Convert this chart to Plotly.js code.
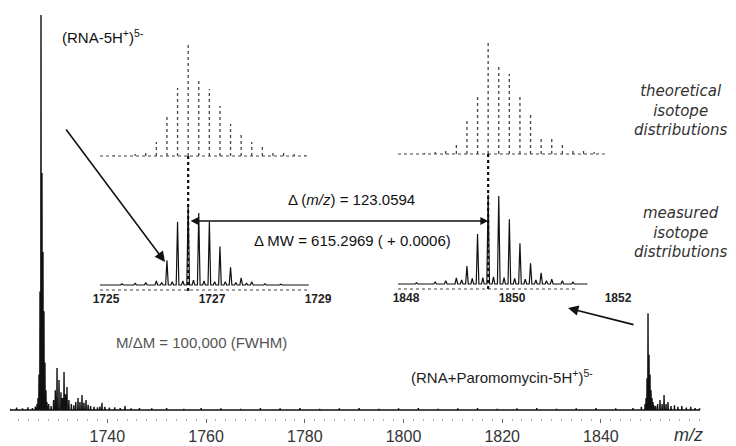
<!DOCTYPE html>
<html><head><meta charset="utf-8">
<script src="https://cdn.plot.ly/plotly-3.0.1.min.js"></script>
<style>html,body{margin:0;padding:0;background:#fff}#chart{width:736px;height:446px}</style>
</head><body><div id="chart"></div>
<script>
// ---- main spectrum (relative intensity, %) ----
const mainMz = [1720.3,1721.6,1722.8,1723.9,1724.8,1725.4,1725.75,1725.95,1726.15,1726.35,1726.55,1726.75,1726.95,1727.15,1727.35,1727.55,1727.75,1728.1,1728.6,1729.1,1729.45,1729.8,1730.2,1730.6,1730.9,1731.22,1731.5,1731.82,1732.2,1732.7,1733.2,1733.6,1734.05,1734.45,1734.86,1735.25,1735.67,1736.1,1736.6,1737.3,1738.0,1738.5,1738.91,1739.5,1740.4,1741.5,1742.6,1743.57,1744.8,1746.5,1749,1752,1755.5,1759,1763,1767,1771,1775,1779,1783,1787,1791,1795,1799,1803,1807,1811,1815,1819,1823,1827,1831,1835,1839,1843,1846.5,1848.2,1848.95,1849.15,1849.35,1849.55,1849.75,1849.95,1850.15,1850.35,1850.55,1850.75,1851.1,1851.5,1851.98,1852.4,1852.8,1853.2,1853.6,1854.2,1854.9,1855.6,1856.4,1857.3,1858.2,1859.1,1860.0];
const mainInt = [0.3,0.6,0.4,0.7,0.5,0.9,1.5,3,9,30,100,60,40,25,12,5,2,1.5,1.0,2.5,5,10.6,7.6,4.5,3,9.6,4,5.8,2.5,1.5,1.2,2,3,2,3.8,1.8,2.5,1.3,1.0,0.8,0.7,0.9,1.8,0.8,0.6,0.7,0.5,1.0,0.4,0.5,0.4,0.5,0.3,0.5,0.4,0.3,0.5,0.4,0.5,0.3,0.4,0.5,0.3,0.4,0.5,0.3,0.4,0.5,0.3,0.4,0.5,0.3,0.4,0.5,0.4,0.5,0.8,1.5,3,8,24.5,14,9,5,3,2,1.2,1,1.5,2.5,1.5,3.8,1.5,2,1,1.2,0.8,1.0,0.6,0.8,0.5,0.4];
const mainTicks = [1740,1760,1780,1800,1820,1840];

// ---- left inset: (RNA-5H+)5- ----
const lmMz = [1724.9,1725.3,1725.55,1725.75,1725.95,1726.05,1726.15,1726.25,1726.35,1726.45,1726.55,1726.65,1726.75,1726.85,1726.95,1727.05,1727.15,1727.25,1727.35,1727.45,1727.55,1727.65,1727.75,1728.0,1728.3,1728.8];
const lmInt = [0,1.5,2,3,5,3,31,4,79,5,100,6,90,5,79,4,48,4,22,3,9,2,4,1.5,1,0];
const ltMz = [1725.15,1725.55,1725.75,1725.95,1726.15,1726.35,1726.55,1726.75,1726.95,1727.15,1727.35,1727.55,1727.75,1727.95,1728.15,1728.35,1728.55,1728.75];
const ltInt = [1,2,4,14,39,68,113,77,67,50,32,21,14,9,5,3,2,1];
const leftTicks = [1725,1727,1729];

// ---- right inset: (RNA+Paromomycin-5H+)5- ----
const rmMz = [1847.86,1848.2,1848.55,1848.75,1848.95,1849.05,1849.15,1849.25,1849.35,1849.45,1849.55,1849.65,1849.75,1849.85,1849.95,1850.05,1850.15,1850.25,1850.35,1850.45,1850.55,1850.65,1850.75,1850.95,1851.15,1851.4];
const rmInt = [0,1.5,2.5,4,7.5,5,22.5,7,62.5,8,112,9,110,8,81,7,51,6,26,5,14,4,6,4,2.5,0];
const rtMz = [1848.35,1848.55,1848.75,1848.95,1849.15,1849.35,1849.55,1849.75,1849.95,1850.15,1850.35,1850.55,1850.75,1850.95,1851.15,1851.35,1851.55];
const rtInt = [1,2,3,12,34,59,114,90,80,57,39,17,16,12,5,3,2];
const rightTicks = [1848,1850,1852];

const leftApex = 1726.55, rightApex = 1849.55;

const W = 736, H = 446;
const px = x => x / W, py = y => 1 - y / H;

function profile(mz, inten, hw) {
  const xs = [], ys = [];
  for (let i = 0; i < mz.length; i++) { xs.push(mz[i] - hw, mz[i], mz[i] + hw); ys.push(0, inten[i], 0); }
  return {xs, ys};
}
function sticks(mz, inten) {
  const xs = [], ys = [];
  for (let i = 0; i < mz.length; i++) { xs.push(mz[i], mz[i], null); ys.push(0, inten[i], null); }
  return {xs, ys};
}
const FONT = 'Liberation Sans, Arial, sans-serif';
const m = profile(mainMz, mainInt, 0.05);
const lm = profile(lmMz, lmInt, 0.025);
const rm = profile(rmMz, rmInt, 0.025);
const lt = sticks(ltMz, ltInt);
const rt = sticks(rtMz, rtInt);

const traces = [
  {x: m.xs, y: m.ys, xaxis: 'x', yaxis: 'y', mode: 'lines', line: {color: '#111', width: 1.4}, hoverinfo: 'skip'},
  {x: lm.xs, y: lm.ys, xaxis: 'x2', yaxis: 'y2', mode: 'lines', line: {color: '#111', width: 1.2}, hoverinfo: 'skip'},
  {x: lt.xs, y: lt.ys, xaxis: 'x2', yaxis: 'y3', mode: 'lines', line: {color: '#444', width: 1.3, dash: 'dot'}, hoverinfo: 'skip'},
  {x: rm.xs, y: rm.ys, xaxis: 'x4', yaxis: 'y4', mode: 'lines', line: {color: '#111', width: 1.2}, hoverinfo: 'skip'},
  {x: rt.xs, y: rt.ys, xaxis: 'x4', yaxis: 'y5', mode: 'lines', line: {color: '#444', width: 1.3, dash: 'dot'}, hoverinfo: 'skip'}
];

const hidden = {visible: false, showgrid: false, zeroline: false, fixedrange: true};
const insetX = (dom, range, ticks, anchor) => ({
  domain: dom, range: range, anchor: anchor, tickvals: ticks, ticktext: ticks.map(String),
  ticks: '', showline: false, showgrid: false, zeroline: false,
  tickfont: {family: FONT, size: 12, color: '#222', weight: 'bold'}
});

const layout = {
  width: W, height: H, margin: {l: 0, r: 0, t: 0, b: 0},
  paper_bgcolor: '#fff', plot_bgcolor: 'rgba(0,0,0,0)', showlegend: false,
  xaxis: {
    domain: [px(10), px(703)], range: [1720.27, 1860.69], anchor: 'y',
    tickvals: mainTicks, ticktext: mainTicks.map(String),
    ticks: 'outside', ticklen: 4, tickcolor: '#666', tickwidth: 1,
    minor: {dtick: 2, tick0: 1720, ticks: 'outside', ticklen: 2, tickcolor: '#aaa'},
    showline: false, showgrid: false, zeroline: false,
    tickfont: {family: FONT, size: 16, color: '#333'}
  },
  yaxis: Object.assign({domain: [py(418), py(15)], range: [-2.03, 100], anchor: 'x'}, hidden),
  xaxis2: insetX([px(100), px(330)], [1724.887, 1729.226], leftTicks, 'y2'),
  yaxis2: Object.assign({domain: [py(290), py(180)], range: [-6.25, 131.25], anchor: 'x2'}, hidden),
  yaxis3: Object.assign({domain: [py(157), py(38)], range: [-1, 118], anchor: 'x2'}, hidden),
  xaxis4: insetX([px(398), px(625)], [1847.849, 1852.132], rightTicks, 'y4'),
  yaxis4: Object.assign({domain: [py(289), py(179)], range: [-6.25, 131.25], anchor: 'x4'}, hidden),
  yaxis5: Object.assign({domain: [py(155), py(36)], range: [-1, 118], anchor: 'x4'}, hidden),
  shapes: [
    {type: 'line', xref: 'x2', yref: 'paper', x0: 1724.887, x1: 1728.81, y0: py(290), y1: py(290), line: {color: '#444', width: 1, dash: 'dot'}},
    {type: 'line', xref: 'x2', yref: 'paper', x0: 1724.887, x1: 1728.79, y0: py(156), y1: py(156), line: {color: '#444', width: 1, dash: 'dot'}},
    {type: 'line', xref: 'x4', yref: 'paper', x0: 1847.849, x1: 1851.23, y0: py(289), y1: py(289), line: {color: '#444', width: 1, dash: 'dot'}},
    {type: 'line', xref: 'x4', yref: 'paper', x0: 1847.849, x1: 1851.75, y0: py(154), y1: py(154), line: {color: '#444', width: 1, dash: 'dot'}},
    {type: 'line', xref: 'x2', yref: 'paper', x0: leftApex, x1: leftApex, y0: py(156), y1: py(291), line: {color: '#111', width: 2.2, dash: 'dot'}},
    {type: 'line', xref: 'x4', yref: 'paper', x0: rightApex, x1: rightApex, y0: py(154), y1: py(290), line: {color: '#111', width: 2.2, dash: 'dot'}}
  ],
  annotations: [
    {text: '(RNA-5H<sup>+</sup>)<sup>5-</sup>', xref: 'paper', yref: 'paper', x: px(60), y: py(36), xanchor: 'left', yanchor: 'middle', showarrow: false, font: {family: FONT, size: 15, color: '#111'}},
    {text: '<i>theoretical</i><br><i>isotope</i><br><i>distributions</i>', xref: 'paper', yref: 'paper', x: px(680), y: py(111), xanchor: 'center', yanchor: 'middle', showarrow: false, font: {family: 'DejaVu Sans, sans-serif', size: 15, color: '#333'}},
    {text: '<i>measured</i><br><i>isotope</i><br><i>distributions</i>', xref: 'paper', yref: 'paper', x: px(680), y: py(233), xanchor: 'center', yanchor: 'middle', showarrow: false, font: {family: 'DejaVu Sans, sans-serif', size: 15, color: '#333'}},
    {text: 'Δ (<i>m/z</i>) = 123.0594', xref: 'paper', yref: 'paper', x: px(351), y: py(200), xanchor: 'center', yanchor: 'middle', showarrow: false, font: {family: FONT, size: 15, color: '#111'}},
    {text: 'Δ MW = 615.2969 ( + 0.0006)', xref: 'paper', yref: 'paper', x: px(352), y: py(240), xanchor: 'center', yanchor: 'middle', showarrow: false, font: {family: FONT, size: 15, color: '#111'}},
    {text: 'M/ΔM = 100,000 (FWHM)', xref: 'paper', yref: 'paper', x: px(201), y: py(342), xanchor: 'center', yanchor: 'middle', showarrow: false, font: {family: FONT, size: 15, color: '#555'}},
    {text: '(RNA+Paromomycin-5H<sup>+</sup>)<sup>5-</sup>', xref: 'paper', yref: 'paper', x: px(502), y: py(376), xanchor: 'center', yanchor: 'middle', showarrow: false, font: {family: FONT, size: 15, color: '#222'}},
    {text: '<i>m/z</i>', xref: 'paper', yref: 'paper', x: px(688), y: py(435), xanchor: 'center', yanchor: 'middle', showarrow: false, font: {family: FONT, size: 18, color: '#333'}},
    {text: '', xref: 'paper', yref: 'paper', x: px(165), y: py(262), ax: -100, ay: -134, showarrow: true, arrowhead: 2, arrowsize: 1.3, arrowwidth: 1.6, arrowcolor: '#111'},
    {text: '', xref: 'paper', yref: 'paper', x: px(568), y: py(308), ax: 67, ay: 17, showarrow: true, arrowhead: 2, arrowsize: 1.3, arrowwidth: 1.6, arrowcolor: '#111'},
    {text: '', xref: 'x4', yref: 'paper', x: rightApex, y: py(221), ax: -299, ay: 0, showarrow: true, arrowside: 'end+start', arrowhead: 2, arrowsize: 1.2, arrowwidth: 1.3, arrowcolor: '#111'}
  ]
};

Plotly.newPlot('chart', traces, layout, {staticPlot: true, displayModeBar: false});
</script></body></html>
